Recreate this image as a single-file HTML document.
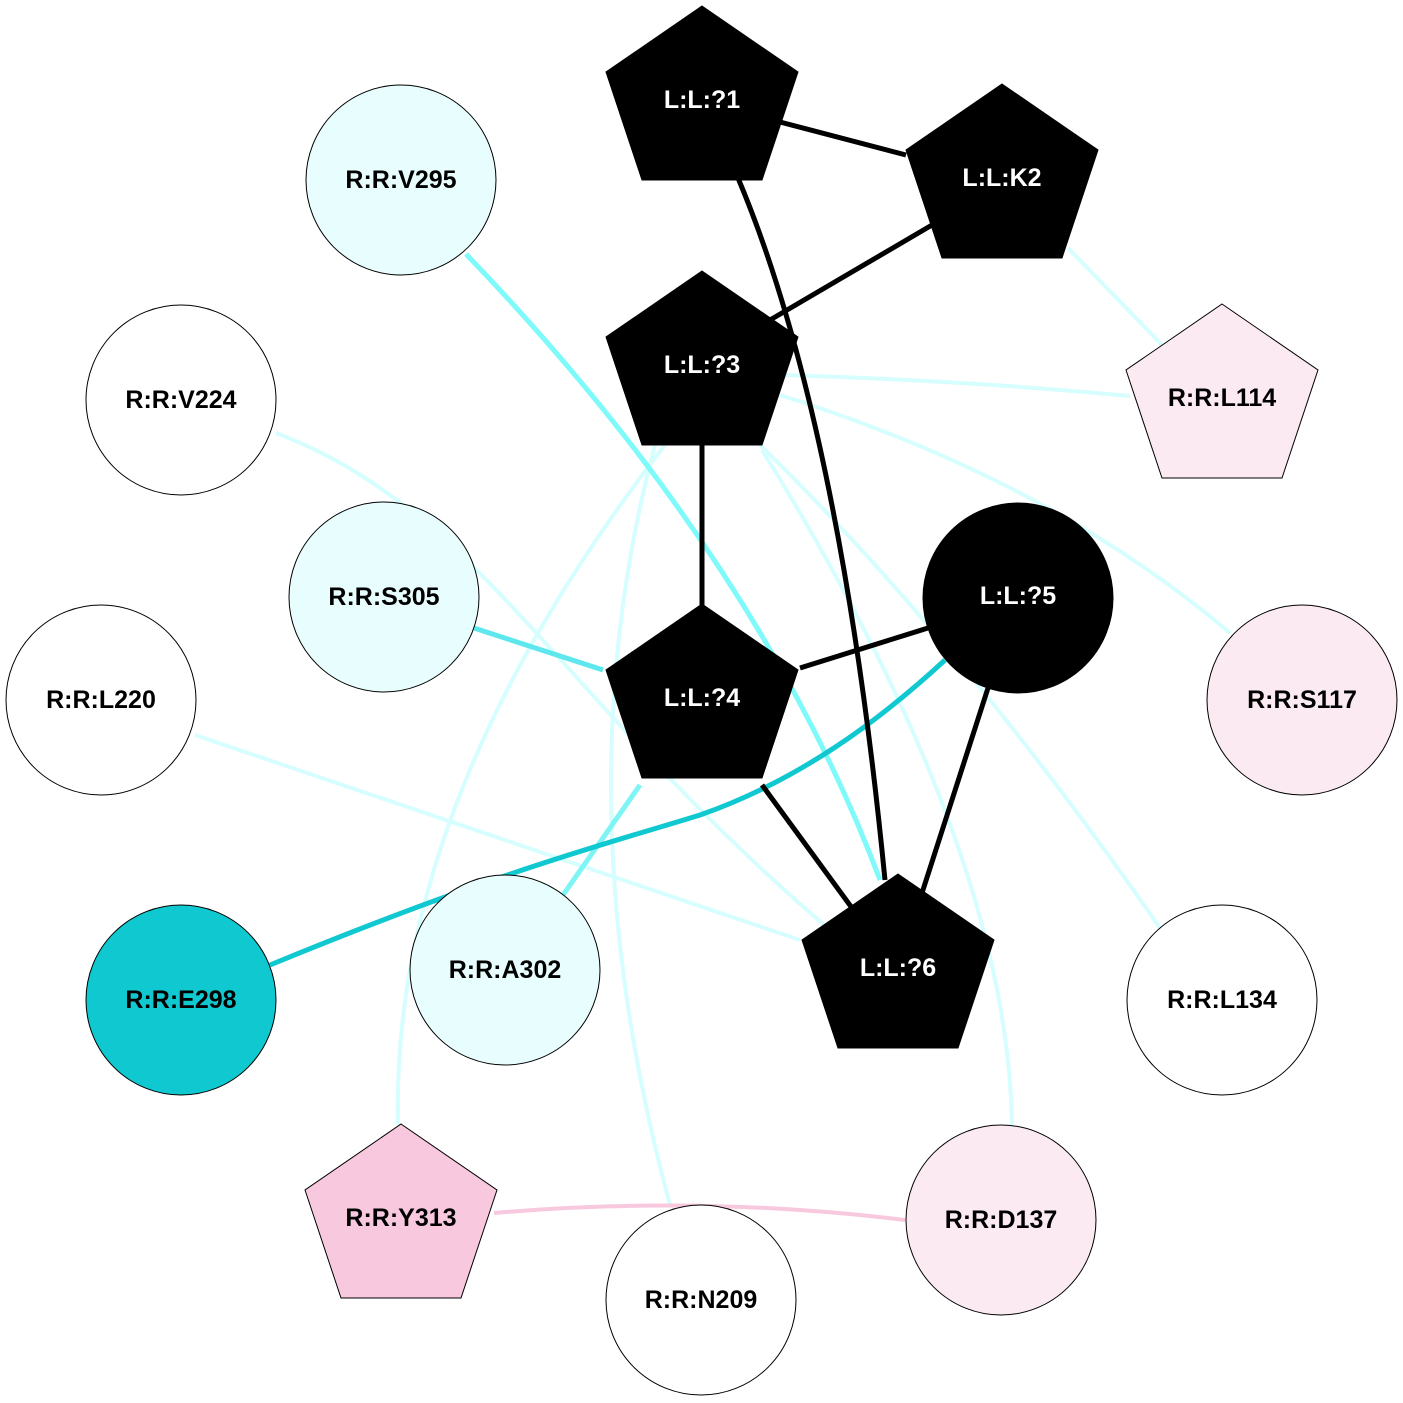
<!DOCTYPE html>
<html><head><style>html,body{margin:0;padding:0;background:#fff}svg{display:block}text{font-family:"Liberation Sans",Arial,sans-serif;font-weight:bold;font-size:25px;text-anchor:middle;dominant-baseline:central}</style></head>
<body>
<svg width="1403" height="1403" viewBox="0 0 1403 1403" xmlns="http://www.w3.org/2000/svg">
<g fill="none" stroke-linecap="butt">
<g stroke="#d6fefe" stroke-width="4">
<path d="M1068,248 L1162,345"/>
<path d="M780,375 Q960,380 1130,396"/>
<path d="M780,395 Q1050,480 1230,633"/>
<path d="M760,445 Q960,640 1160,928"/>
<path d="M762,450 Q1010,850 1012,1130"/>
<path d="M665,445 Q390,800 398,1125"/>
<path d="M655,445 Q560,800 670,1205"/>
<path d="M276,433 C480,510 560,700 830,930"/>
<path d="M195,735 L800,940"/>
</g>
<path d="M494,1213 Q700,1195 905,1220" stroke="#f8c8de" stroke-width="4"/>
<path d="M466,254 Q760,560 880,880" stroke="#7ffafa" stroke-width="5"/>
<path d="M474,628 L603,670" stroke="#5ee8ee" stroke-width="5"/>
<path d="M563,895 L640,785" stroke="#7ff4f4" stroke-width="5"/>
<path d="M270,965 C500,870 620,840 700,815 C800,780 880,720 945,660" stroke="#10c8d0" stroke-width="5"/>
<g stroke="#000" stroke-width="5">
<path d="M780,122 L906,155"/>
<path d="M738,178 Q840,420 885,880"/>
<path d="M932,225 L770,320"/>
<path d="M702,445 L702,605"/>
<path d="M800,668 L928,628"/>
<path d="M762,785 L852,908"/>
<path d="M988,688 L922,893"/>
</g>
</g>
<g stroke="#000" stroke-width="1">
<circle cx="401" cy="180" r="95" fill="#e8fefe"/>
<circle cx="181" cy="400" r="95" fill="#fff"/>
<circle cx="384" cy="597" r="95" fill="#e8fefe"/>
<circle cx="101" cy="700" r="95" fill="#fff"/>
<circle cx="181" cy="1000" r="95" fill="#10c8d0"/>
<circle cx="505" cy="970" r="95" fill="#e8fefe"/>
<circle cx="1018" cy="598" r="95" fill="#000"/>
<circle cx="1302" cy="700" r="95" fill="#fbeaf2"/>
<circle cx="1222" cy="1000" r="95" fill="#fff"/>
<circle cx="1001" cy="1220" r="95" fill="#fbeaf2"/>
<circle cx="701" cy="1300" r="95" fill="#fff"/>
<polygon transform="translate(702,100)" points="0,-94 96,-28 60,80 -60,80 -96,-28" fill="#000"/>
<polygon transform="translate(1002,178)" points="0,-94 96,-28 60,80 -60,80 -96,-28" fill="#000"/>
<polygon transform="translate(702,365)" points="0,-94 96,-28 60,80 -60,80 -96,-28" fill="#000"/>
<polygon transform="translate(702,698)" points="0,-94 96,-28 60,80 -60,80 -96,-28" fill="#000"/>
<polygon transform="translate(898,968)" points="0,-94 96,-28 60,80 -60,80 -96,-28" fill="#000"/>
<polygon transform="translate(1222,398)" points="0,-94 96,-28 60,80 -60,80 -96,-28" fill="#fbeaf2"/>
<polygon transform="translate(401,1218)" points="0,-94 96,-28 60,80 -60,80 -96,-28" fill="#f8c8de"/>
</g>
<g fill="#000">
<text x="401" y="180">R:R:V295</text>
<text x="181" y="400">R:R:V224</text>
<text x="384" y="597">R:R:S305</text>
<text x="101" y="700">R:R:L220</text>
<text x="181" y="1000">R:R:E298</text>
<text x="505" y="970">R:R:A302</text>
<text x="1302" y="700">R:R:S117</text>
<text x="1222" y="1000">R:R:L134</text>
<text x="1001" y="1220">R:R:D137</text>
<text x="701" y="1300">R:R:N209</text>
<text x="1222" y="398">R:R:L114</text>
<text x="401" y="1218">R:R:Y313</text>
</g>
<g fill="#fff">
<text x="702" y="100">L:L:?1</text>
<text x="1002" y="178">L:L:K2</text>
<text x="702" y="365">L:L:?3</text>
<text x="702" y="698">L:L:?4</text>
<text x="1018" y="596">L:L:?5</text>
<text x="898" y="968">L:L:?6</text>
</g>
</svg>
</body></html>
